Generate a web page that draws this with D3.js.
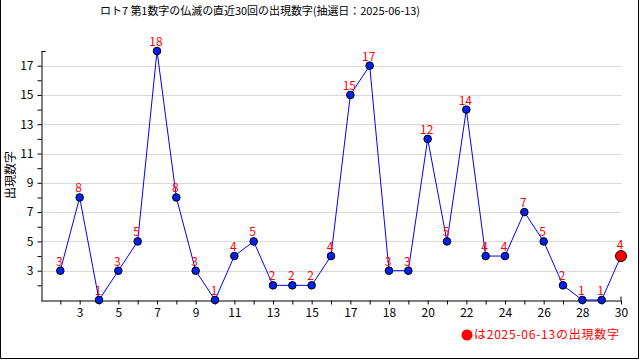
<!DOCTYPE html>
<html>
<head>
<meta charset="utf-8">
<script src="https://cdn.jsdelivr.net/npm/d3@7"></script>
<style>
  body { margin: 0; background: #fff; }
  text { font-family: "Noto Sans CJK JP", "DejaVu Sans", sans-serif; }
</style>
</head>
<body>
<svg width="640" height="360"></svg>
<script>
// last 30 draws, 1st number on 仏滅 days
const rounds = d3.range(1, 31);
const values = [3, 8, 1, 3, 5, 18, 8, 3, 1, 4, 5, 2, 2, 2, 4, 15, 17, 3, 3, 12, 5, 14, 4, 4, 7, 5, 2, 1, 1, 4];
// x labels as printed under every other tick
const xTickPos = [2, 4, 6, 8, 10, 12, 14, 16, 18, 20, 22, 24, 26, 28, 30];
const xTickText = ["3", "5", "7", "9", "11", "13", "15", "17", "18", "20", "22", "24", "26", "28", "30"];
const yTicks = [3, 5, 7, 9, 11, 13, 15, 17];

const title = "ロト7 第1数字の仏滅の直近30回の出現数字(抽選日：2025-06-13)";
const drawDate = "2025-06-13";

const svg = d3.select("svg");

const x = d3.scaleLinear().domain([0, 30]).range([41, 621]);
const y = d3.scaleLinear().domain([1, 18]).range([300, 51]);

// frame
svg.append("path")
  .attr("d", "M0.5,0 V358.5 H638.5 V0")
  .attr("fill", "none").attr("stroke", "#000");

svg.append("text")
  .attr("x", 100).attr("y", 15)
  .attr("font-size", 11)
  .attr("textLength", 320)
  .text(title);

// grid
svg.append("g").selectAll("line")
  .data(yTicks).enter().append("line")
  .attr("x1", 41).attr("x2", 621)
  .attr("y1", d => Math.round(y(d)) + 0.5)
  .attr("y2", d => Math.round(y(d)) + 0.5)
  .attr("stroke", "#d9d9d9");

// y axis
const yAxis = d3.axisLeft(y)
  .tickValues(d3.range(2, 18))
  .tickSize(4)
  .tickSizeOuter(0)
  .tickFormat(d => yTicks.includes(d) ? d : "");
const gy = svg.append("g").attr("transform", "translate(41.5,0)").call(yAxis);
gy.selectAll("text").attr("font-size", 12).attr("fill", "#000").attr("x", -8);
gy.append("line").attr("x1", 0).attr("x2", 4)
  .attr("y1", y(18) + 0.5).attr("y2", y(18) + 0.5).attr("stroke", "#000");

// x axis
const xAxis = d3.axisBottom(x)
  .tickValues(rounds)
  .tickSize(4)
  .tickSizeOuter(0)
  .tickFormat(d => {
    const i = xTickPos.indexOf(d);
    return i < 0 ? "" : xTickText[i];
  });
const gx = svg.append("g").attr("transform", "translate(0,300.5)").call(xAxis);
gx.selectAll("text").attr("font-size", 12).attr("fill", "#000").attr("y", 8);
gx.append("line").attr("x1", x(30)).attr("x2", x(30))
  .attr("y1", 0).attr("y2", -4).attr("stroke", "#000");
gx.select(".domain").attr("d", "M41,0.5H621");

svg.append("text")
  .attr("transform", "translate(15,175) rotate(-90)")
  .attr("text-anchor", "middle")
  .attr("font-size", 12)
  .text("出現数字");

const pts = rounds.map((r, i) => ({ r, v: values[i] }));

svg.append("path")
  .datum(pts)
  .attr("fill", "none")
  .attr("stroke", "#0000ff")
  .attr("stroke-width", 1)
  .attr("d", d3.line().x(d => x(d.r)).y(d => y(d.v)));

svg.append("g").selectAll("circle")
  .data(pts).enter().append("circle")
  .attr("cx", d => x(d.r))
  .attr("cy", d => y(d.v))
  .attr("r", d => d.r === 30 ? 5.5 : 3.8)
  .attr("fill", d => d.r === 30 ? "#ff0000" : "#0022ee")
  .attr("stroke", "#000")
  .attr("stroke-width", 1);

svg.append("g").selectAll("text")
  .data(pts).enter().append("text")
  .attr("x", d => x(d.r) - 1)
  .attr("y", d => y(d.v) - (d.r === 30 ? 7 : 5))
  .attr("text-anchor", "middle")
  .attr("font-size", 12)
  .attr("fill", "#ff0000")
  .text(d => d.v);

// legend
svg.append("circle").attr("cx", 467).attr("cy", 335).attr("r", 5.5).attr("fill", "#ff0000");
svg.append("text")
  .attr("x", 474).attr("y", 339)
  .attr("font-size", 12)
  .attr("textLength", 145)
  .attr("fill", "#ff0000")
  .text("は" + drawDate + "の出現数字");
</script>
</body>
</html>
